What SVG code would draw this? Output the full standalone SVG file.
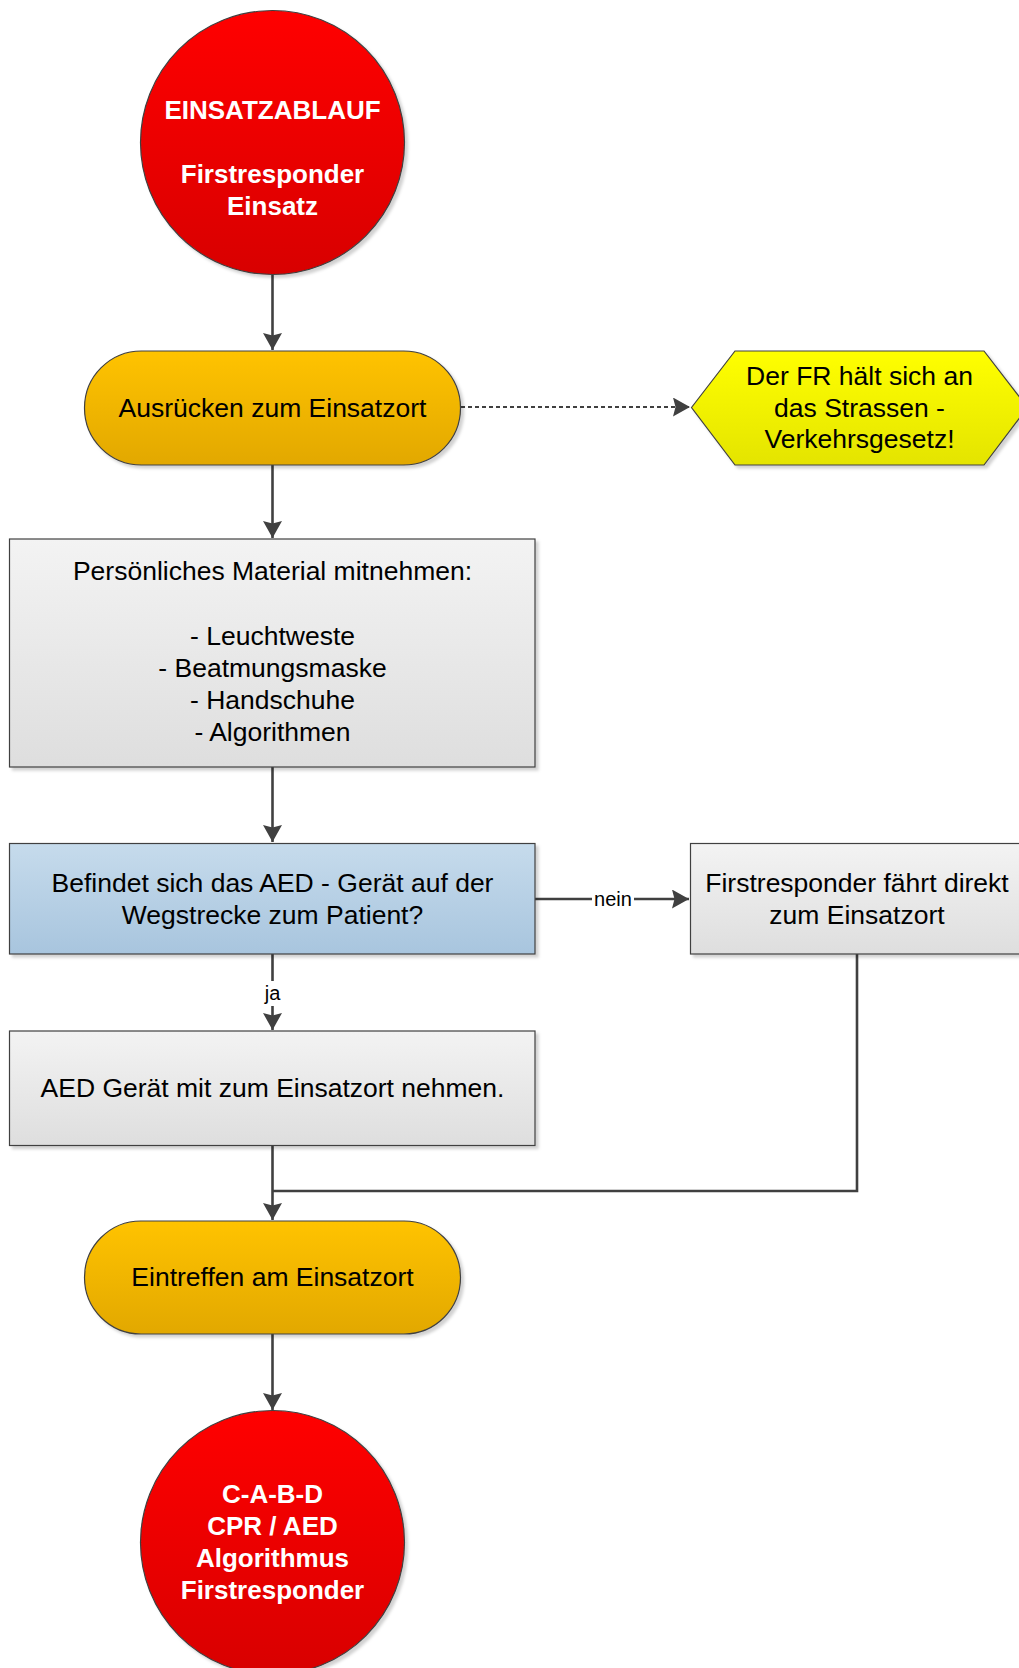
<svg xmlns="http://www.w3.org/2000/svg" width="1019" height="1668" viewBox="0 0 1019 1668">
<style>
text{font-family:"Liberation Sans",Arial,sans-serif;text-anchor:middle;fill:#000;font-size:26.5px}
.w{fill:#fff;font-weight:bold;font-size:26px}
.node{stroke:#404040;stroke-width:1.2}
.c{fill:none;stroke:#404040;stroke-width:2.6}
.d{fill:none;stroke:#404040;stroke-width:1.8;stroke-dasharray:4 3}
.lbl{font-size:20px}
</style>
<defs>
<linearGradient id="gRed" x1="0" y1="0" x2="0" y2="1"><stop offset="0" stop-color="#ff0000"/><stop offset="1" stop-color="#d80000"/></linearGradient>
<linearGradient id="gOr" x1="0" y1="0" x2="0" y2="1"><stop offset="0" stop-color="#ffc300"/><stop offset="1" stop-color="#e2a800"/></linearGradient>
<linearGradient id="gYe" x1="0" y1="0" x2="0" y2="1"><stop offset="0" stop-color="#ffff00"/><stop offset="1" stop-color="#e4e400"/></linearGradient>
<linearGradient id="gGr" x1="0" y1="0" x2="0" y2="1"><stop offset="0" stop-color="#f3f3f3"/><stop offset="1" stop-color="#dedede"/></linearGradient>
<linearGradient id="gBl" x1="0" y1="0" x2="0" y2="1"><stop offset="0" stop-color="#c6dbec"/><stop offset="1" stop-color="#a8c5de"/></linearGradient>
<filter id="sh" x="-10%" y="-10%" width="130%" height="130%"><feDropShadow dx="3" dy="3" stdDeviation="1.5" flood-color="#000" flood-opacity="0.18"/></filter>
<marker id="ar" markerUnits="userSpaceOnUse" markerWidth="18" markerHeight="20" refX="17" refY="9.5" orient="auto"><path d="M0,0 L17,9.5 L0,19 L2.5,9.5 z" fill="#404040"/></marker>
</defs>

<g id="connectors">
<path class="c" d="M272.5,275 V350" marker-end="url(#ar)"/>
<path class="d" d="M461,407 H690" marker-end="url(#ar)"/>
<path class="c" d="M272.5,465 V538" marker-end="url(#ar)"/>
<path class="c" d="M272.5,767 V842" marker-end="url(#ar)"/>
<path class="c" d="M535,899 H592 M634,899 H689" marker-end="url(#ar)"/>
<path class="c" d="M272.5,954 V981 M272.5,1006 V1030" marker-end="url(#ar)"/>
<path class="c" d="M272.5,1145 V1220" marker-end="url(#ar)"/>
<path class="c" d="M857,954 V1191 H272.5"/>
<path class="c" d="M272.5,1334 V1410" marker-end="url(#ar)"/>
<text class="lbl" x="613" y="906">nein</text>
<text class="lbl" x="272.5" y="1000">ja</text>
</g>

<g id="start">
<circle class="node" cx="272.5" cy="142.5" r="132" fill="url(#gRed)" filter="url(#sh)"/>
<text class="w" x="272.5" y="119">EINSATZABLAUF</text>
<text class="w" x="272.5" y="183">Firstresponder</text>
<text class="w" x="272.5" y="215">Einsatz</text>
</g>

<g id="ausruecken">
<rect class="node" x="84.5" y="351" width="376" height="114" rx="57" fill="url(#gOr)" filter="url(#sh)"/>
<text x="272.5" y="417">Ausrücken zum Einsatzort</text>
</g>

<g id="hinweis">
<path class="node" d="M691.5,407.5 L735,351 H984 L1027.5,407.5 L984,465 H735 Z" fill="url(#gYe)" filter="url(#sh)"/>
<text x="859.5" y="385">Der FR hält sich an</text>
<text x="859.5" y="417">das Strassen -</text>
<text x="859.5" y="448">Verkehrsgesetz!</text>
</g>

<g id="material">
<rect class="node" x="9.5" y="539" width="525.5" height="228" fill="url(#gGr)" filter="url(#sh)"/>
<text x="272.5" y="580">Persönliches Material mitnehmen:</text>
<text x="272.5" y="644.5">- Leuchtweste</text>
<text x="272.5" y="676.5">- Beatmungsmaske</text>
<text x="272.5" y="709">- Handschuhe</text>
<text x="272.5" y="741">- Algorithmen</text>
</g>

<g id="frage">
<rect class="node" x="9.5" y="843.5" width="525.5" height="110.5" fill="url(#gBl)" filter="url(#sh)"/>
<text x="272.5" y="891.5">Befindet sich das AED - Gerät auf der</text>
<text x="272.5" y="923.5">Wegstrecke zum Patient?</text>
</g>

<g id="direkt">
<rect class="node" x="690.5" y="843.5" width="335" height="110.5" fill="url(#gGr)" filter="url(#sh)"/>
<text x="857" y="891.5">Firstresponder fährt direkt</text>
<text x="857" y="923.5">zum Einsatzort</text>
</g>

<g id="aed">
<rect class="node" x="9.5" y="1031" width="525.5" height="114.5" fill="url(#gGr)" filter="url(#sh)"/>
<text x="272.5" y="1096.5">AED Gerät mit zum Einsatzort nehmen.</text>
</g>

<g id="eintreffen">
<rect class="node" x="84.5" y="1221" width="376" height="113" rx="56.5" fill="url(#gOr)" filter="url(#sh)"/>
<text x="272.5" y="1286">Eintreffen am Einsatzort</text>
</g>

<g id="ende">
<circle class="node" cx="272.5" cy="1542.5" r="132" fill="url(#gRed)" filter="url(#sh)"/>
<text class="w" x="272.5" y="1503">C-A-B-D</text>
<text class="w" x="272.5" y="1535">CPR / AED</text>
<text class="w" x="272.5" y="1567">Algorithmus</text>
<text class="w" x="272.5" y="1599">Firstresponder</text>
</g>
</svg>
